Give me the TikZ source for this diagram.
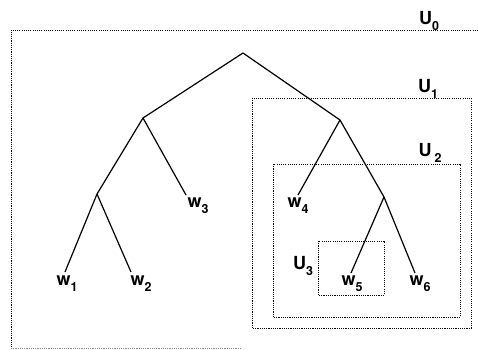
\documentclass[tikz,border=0pt]{standalone}
\usepackage{fontspec}
\setmainfont{TeX Gyre Heros}
\newcommand{\lsub}[1]{\raisebox{-0.32em}{\fontsize{12.5}{12.5}\selectfont #1}}
\begin{document}
\begin{tikzpicture}[x=1pt,y=-1pt,
  edge/.style={line width=1.2pt},
  region/.style={line width=1pt, dash pattern=on 1.1pt off 1.1pt},
  lbl/.style={inner sep=0pt, font=\fontsize{18}{18}\selectfont\bfseries},
  leaf/.style={lbl, anchor=north}]
\useasboundingbox (0,0) rectangle (478,349);
% regions
\draw[region] (478,30) -- (11,30) -- (11,348);
\draw[region, black!45] (11,348) -- (240,348);
\draw[region] (252,98) rectangle (471,328);
\draw[region] (273,164) rectangle (460,317);
\draw[region] (318,241) rectangle (384,295);
\node[lbl] (u0) at (429,21) {U\lsub{0}};
\node[lbl] (u1) at (428,89) {U\lsub{1}};
\node[lbl] (u2) at (430,153) {U\,\lsub{2}};
\node[lbl] (u3) at (303,266) {U\lsub{3}};
% tree
\coordinate (r) at (243,53);
\coordinate (a) at (143,118);
\coordinate (b) at (340,120);
\coordinate (c) at (97,194);
\coordinate (d) at (384,197);
\coordinate (e1) at (65,272);
\coordinate (e2) at (131,272);
\coordinate (e3) at (186,195);
\coordinate (e4) at (298,195);
\coordinate (e5) at (351,273);
\coordinate (e6) at (415,273);
\draw[edge] (e1) -- (c) -- (a) -- (r) -- (b) -- (d) -- (e6);
\draw[edge] (c) -- (e2);
\draw[edge] (a) -- (e3);
\draw[edge] (b) -- (e4);
\draw[edge] (d) -- (e5);
\node[leaf] (w1) at (67,276) {w\lsub{1}};
\node[leaf] (w2) at (141,276) {w\lsub{2}};
\node[leaf] (w3) at (198,198) {w\lsub{3}};
\node[leaf] (w4) at (298,198) {w\lsub{4}};
\node[leaf] (w5) at (352,276) {w\lsub{5}};
\node[leaf] (w6) at (420,276) {w\lsub{6}};
\end{tikzpicture}
\end{document}
